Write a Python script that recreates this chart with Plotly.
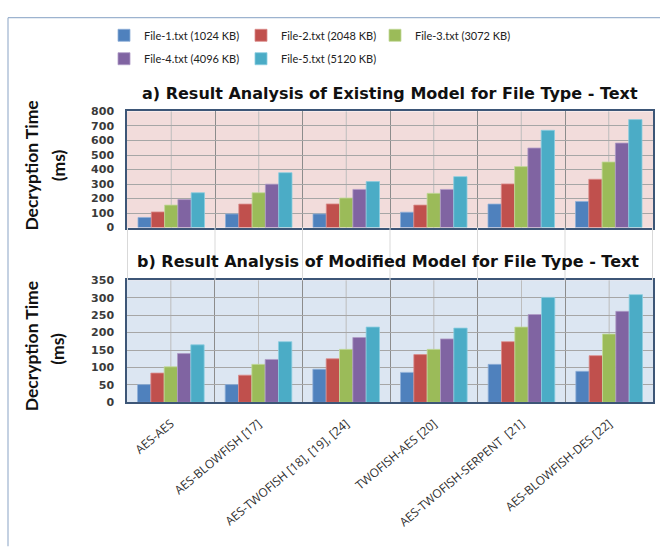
import plotly.graph_objects as go

# Cipher combinations on the category axis
categories = [
    "AES-AES",
    "AES-BLOWFISH [17]",
    "AES-TWOFISH [18], [19], [24]",
    "TWOFISH-AES [20]",
    "AES-TWOFISH-SERPENT  [21]",
    "AES-BLOWFISH-DES [22]",
]

series_names = [
    "File-1.txt (1024 KB)",
    "File-2.txt (2048 KB)",
    "File-3.txt (3072 KB)",
    "File-4.txt (4096 KB)",
    "File-5.txt (5120 KB)",
]

# Decryption time (ms), existing model
existing_file1 = [70, 94, 94, 106, 162, 180]
existing_file2 = [108, 162, 163, 155, 301, 333]
existing_file3 = [155, 240, 204, 236, 420, 452]
existing_file4 = [193, 299, 263, 263, 548, 582]
existing_file5 = [240, 378, 317, 351, 670, 744]

# Decryption time (ms), modified model
modified_file1 = [51, 51, 95, 86, 109, 89]
modified_file2 = [84, 78, 125, 137, 174, 134]
modified_file3 = [102, 109, 152, 152, 216, 196]
modified_file4 = [140, 123, 186, 182, 252, 261]
modified_file5 = [165, 174, 216, 213, 301, 309]

top_ticks = [0, 100, 200, 300, 400, 500, 600, 700, 800]
bottom_ticks = [0, 50, 100, 150, 200, 250, 300, 350]

colors = ["#4F81BD", "#C0504D", "#9BBB59", "#8064A2", "#4BACC6"]
edge_colors = ["#8FB0D8", "#DA8C8A", "#C3D99A", "#AE9AC6", "#8ACDE0"]

W, H = 660, 548
FONT = "Lato"
WIDE = "DejaVu Sans"


def px_x(v):
    return v / W


def px_y(v):
    return 1 - v / H


existing = [existing_file1, existing_file2, existing_file3, existing_file4, existing_file5]
modified = [modified_file1, modified_file2, modified_file3, modified_file4, modified_file5]

fig = go.Figure()

legend_ids = ["legend", "legend2", "legend3", "legend4", "legend5"]
for i, (name, vals) in enumerate(zip(series_names, existing)):
    fig.add_trace(go.Bar(
        x=categories, y=vals, name=name,
        marker=dict(color=colors[i], line=dict(color=edge_colors[i], width=0.8)),
        xaxis="x", yaxis="y", legend=legend_ids[i],
    ))
for i, (name, vals) in enumerate(zip(series_names, modified)):
    fig.add_trace(go.Bar(
        x=categories, y=vals, name=name, showlegend=False,
        marker=dict(color=colors[i], line=dict(color=edge_colors[i], width=0.8)),
        xaxis="x2", yaxis="y2",
    ))

x_domain = [px_x(127), px_x(653)]
top_domain = [px_y(227), px_y(108)]
bottom_domain = [px_y(406), px_y(281)]

axis_line = "#3D5677"
common_x = dict(
    type="category", domain=x_domain, tickson="boundaries",
    showgrid=True, gridcolor="#8C8C8C", gridwidth=1,
    showline=True, linecolor=axis_line, linewidth=1.5, mirror=True,
    ticks="", fixedrange=True,
)
common_y = dict(
    showgrid=True, gridcolor="#A6A6A6", gridwidth=1,
    showline=True, linecolor=axis_line, linewidth=1.5, mirror=True,
    ticks="", ticklabelstandoff=9, zeroline=False,
    tickfont=dict(family=WIDE, size=11, color="#3A3A3A", weight="bold"),
)

fig.update_layout(
    width=W, height=H,
    margin=dict(l=0, r=0, t=0, b=0),
    paper_bgcolor="white",
    barmode="group", bargap=0.24, bargroupgap=0,
    font=dict(family=FONT, color="#222"),
    xaxis=dict(common_x, anchor="y", showticklabels=False),
    yaxis=dict(common_y, domain=top_domain, anchor="x", range=[0, 800],
               tickvals=top_ticks),
    xaxis2=dict(common_x, anchor="y2", showticklabels=True, tickangle=-40,
                ticklabelstandoff=8,
                tickfont=dict(family="Open Sans", size=12, color="#303030")),
    yaxis2=dict(common_y, domain=bottom_domain, anchor="x2", range=[0, 350],
                tickvals=bottom_ticks),
    plot_bgcolor="#F2DCDB",
)

# Blue background for the lower panel
shapes = [
    dict(type="rect", xref="x2 domain", yref="y2 domain", x0=0, x1=1, y0=0, y1=1,
         fillcolor="#DCE6F2", line=dict(width=0), layer="below"),
]
# Light guide lines at group centres inside both panels
for k in range(len(categories)):
    for xr, yr in (("x", "y domain"), ("x2", "y2 domain")):
        shapes.append(dict(type="line", xref=xr, yref=yr, x0=k, x1=k, y0=0, y1=1,
                           line=dict(color="#BDBDBD", width=1), layer="below"))
# Faint boundary lines in the gap between the panels
for k in range(len(categories) + 1):
    shapes.append(dict(type="line", xref="x", yref="paper", x0=k - 0.5, x1=k - 0.5,
                       y0=bottom_domain[1], y1=top_domain[0],
                       line=dict(color="#D9D9D9", width=1)))
# Outer chart frame (top and left edges)
frame = "#9DB3CF"
shapes.append(dict(type="line", xref="paper", yref="paper", x0=px_x(8), x1=1.01,
                   y0=px_y(12), y1=px_y(12), line=dict(color=frame, width=1.2)))
shapes.append(dict(type="line", xref="paper", yref="paper", x0=px_x(8), x1=px_x(8),
                   y0=-0.01, y1=px_y(12), line=dict(color=frame, width=1.2)))
fig.update_layout(shapes=shapes)

# One legend per file size, laid out in two rows
legend_pos = [(104, 30), (241, 30), (375, 30), (104, 54), (241, 54)]
for lid, (lx, ly) in zip(legend_ids, legend_pos):
    fig.update_layout({lid: dict(
        x=px_x(lx), y=px_y(ly), xanchor="left", yanchor="middle",
        orientation="h", bgcolor="rgba(0,0,0,0)", borderwidth=0,
        font=dict(family=FONT, size=11, color="#222"),
    )})

title_font = dict(family=WIDE, size=16, color="#111", weight="bold")
annotations = [
    dict(text="a) Result Analysis of Existing Model for File Type - Text",
         x=px_x(390), y=px_y(90), xref="paper", yref="paper", showarrow=False,
         xanchor="center", yanchor="middle", font=title_font),
    dict(text="b) Result Analysis of Modified Model for File Type - Text",
         x=px_x(388), y=px_y(262), xref="paper", yref="paper", showarrow=False,
         xanchor="center", yanchor="middle", font=title_font),
]
ytitle_font = dict(family=FONT, size=17.5, color="#111", weight="bold")
for cy1, cy2 in ((164, 163), (349, 351)):
    annotations.append(dict(text="Decryption Time", x=px_x(31.5), y=px_y(cy1),
                            xref="paper", yref="paper", showarrow=False, textangle=-90,
                            xanchor="center", yanchor="middle", font=ytitle_font))
    annotations.append(dict(text="(ms)", x=px_x(58), y=px_y(cy2),
                            xref="paper", yref="paper", showarrow=False, textangle=-90,
                            xanchor="center", yanchor="middle", font=ytitle_font))
fig.update_layout(annotations=annotations)

fig.write_html("out.html")
